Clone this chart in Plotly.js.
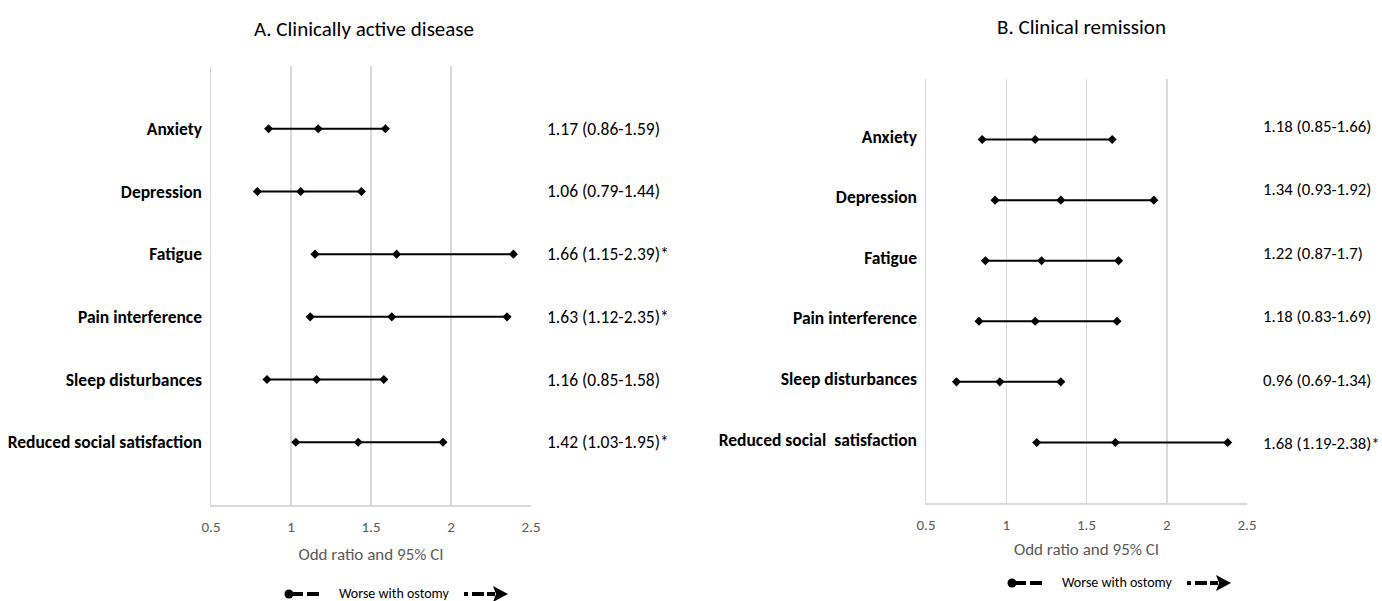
<!DOCTYPE html>
<html>
<head>
<meta charset="utf-8">
<script src="https://cdn.plot.ly/plotly-3.0.1.min.js"></script>
<style>html,body{margin:0;padding:0;background:#fff}#chart{width:1382px;height:601px}</style>
</head>
<body>
<div id="chart"></div>
<script>
// ---- data ----
const categoriesA = ["Anxiety", "Depression", "Fatigue", "Pain interference", "Sleep disturbances", "Reduced social satisfaction"];
const orA   = [1.17, 1.06, 1.66, 1.63, 1.16, 1.42];
const lowA  = [0.86, 0.79, 1.15, 1.12, 0.85, 1.03];
const highA = [1.59, 1.44, 2.39, 2.35, 1.58, 1.95];
const sigA  = [false, false, true, true, false, true];

const categoriesB = ["Anxiety", "Depression", "Fatigue", "Pain interference", "Sleep disturbances", "Reduced social\u00a0 satisfaction"];
const orB   = [1.18, 1.34, 1.22, 1.18, 0.96, 1.68];
const lowB  = [0.85, 0.93, 0.87, 0.83, 0.69, 1.19];
const highB = [1.66, 1.92, 1.70, 1.69, 1.34, 2.38];
const sigB  = [false, false, false, false, false, true];

const titleA = "A. Clinically active disease";
const titleB = "B. Clinical remission";
const xTitle = "Odd ratio and 95% CI";
const legendText = "Worse with ostomy";
const xTicks = [0.5, 1, 1.5, 2, 2.5];

// ---- layout helpers ----
const W = 1382, H = 601;
const px = x => x / W;
const py = y => 1 - y / H;
const FONT = "Carlito, Calibri, Lato, sans-serif";
const GRID = "#d9d9d9";
const GREY = "#595959";

function segTrace(cats, lo, or, hi, xa, ya) {
  const x = [], y = [];
  cats.forEach((c, i) => { x.push(lo[i], or[i], hi[i], null); y.push(c, c, c, null); });
  return {
    type: "scatter", mode: "lines+markers", x, y, xaxis: xa, yaxis: ya,
    line: {color: "#000", width: 2},
    marker: {symbol: "diamond", size: 7, color: "#000"},
    hoverinfo: "skip", showlegend: false, cliponaxis: false
  };
}
function fmt(v) { return String(v); }
function label(o, l, h, s) { return fmt(o) + " (" + fmt(l) + "-" + fmt(h) + ")" + (s ? "*" : ""); }

const data = [
  segTrace(categoriesA, lowA, orA, highA, "x", "y"),
  segTrace(categoriesB, lowB, orB, highB, "x2", "y2")
];

function xaxisDef(dom, anchor, standoff) {
  return {
    domain: dom, anchor, range: [0.5, 2.5], tickvals: xTicks, ticktext: xTicks.map(String),
    showgrid: true, gridcolor: GRID, gridwidth: 1.5, zeroline: false,
    showline: true, linecolor: GRID, linewidth: 1.5, ticks: "", ticklabelstandoff: 7,
    tickfont: {family: FONT, size: 15, color: GREY},
    title: {text: xTitle, font: {family: FONT, size: 17, color: GREY}, standoff: standoff},
    fixedrange: true
  };
}
function yaxisDef(dom, anchor, cats, shift) {
  return {
    domain: dom, anchor, type: "category", categoryarray: cats, categoryorder: "array",
    range: [cats.length, -1], showgrid: false, zeroline: false,
    showline: true, linecolor: GRID, linewidth: 1.5, ticks: "", ticklabelstandoff: 4,
    ticklabelshift: shift,
    tickfont: {family: FONT, size: 17.5, color: "#000", weight: 700},
    fixedrange: true
  };
}

const annotations = [];
annotations.push({xref: "paper", yref: "paper", x: px(364), y: py(29), text: titleA, showarrow: false,
  xanchor: "center", yanchor: "middle", font: {family: FONT, size: 21, color: "#000"}});
annotations.push({xref: "paper", yref: "paper", x: px(1081), y: py(27), text: titleB, showarrow: false,
  xanchor: "center", yanchor: "middle", font: {family: FONT, size: 21, color: "#000"}});

categoriesA.forEach((c, i) => annotations.push({
  xref: "paper", yref: "y", x: px(545), y: c, text: label(orA[i], lowA[i], highA[i], sigA[i]),
  showarrow: false, xanchor: "left", yanchor: "middle", font: {family: FONT, size: 17.5, color: "#000"}
}));
// right-hand value column sits on its own row grid in the source
const rowTopB = 126, rowStepB = 63.5;
categoriesB.forEach((c, i) => annotations.push({
  xref: "paper", yref: "paper", x: px(1261), y: py(rowTopB + rowStepB * i), text: label(orB[i], lowB[i], highB[i], sigB[i]),
  showarrow: false, xanchor: "left", yanchor: "middle", font: {family: FONT, size: 16.8, color: "#000"}
}));

const shapes = [];
function legendAt(cx, cy) {
  const blk = {type: "rect", xref: "paper", yref: "paper", fillcolor: "#000", line: {width: 0}};
  shapes.push({type: "circle", xref: "paper", yref: "paper", x0: px(cx - 4.5), x1: px(cx + 4.5), y0: py(cy + 4.5), y1: py(cy - 4.5), fillcolor: "#000", line: {width: 0}});
  shapes.push(Object.assign({}, blk, {x0: px(cx), x1: px(cx + 14), y0: py(cy + 2), y1: py(cy - 2)}));
  shapes.push(Object.assign({}, blk, {x0: px(cx + 18), x1: px(cx + 30), y0: py(cy + 2), y1: py(cy - 2)}));
  annotations.push({xref: "paper", yref: "paper", x: px(cx + 48), y: py(cy - 1), text: legendText, showarrow: false,
    xanchor: "left", yanchor: "middle", font: {family: FONT, size: 14, color: "#000"}});
  const s = cx + 175;
  shapes.push(Object.assign({}, blk, {x0: px(s), x1: px(s + 4), y0: py(cy + 2), y1: py(cy - 2)}));
  shapes.push(Object.assign({}, blk, {x0: px(s + 8), x1: px(s + 20), y0: py(cy + 2), y1: py(cy - 2)}));
  shapes.push(Object.assign({}, blk, {x0: px(s + 23), x1: px(s + 31), y0: py(cy + 2), y1: py(cy - 2)}));
  shapes.push({type: "path", xref: "paper", yref: "paper", fillcolor: "#000", line: {width: 0},
    path: `M ${px(s + 29)} ${py(cy - 8)} L ${px(s + 44)} ${py(cy)} L ${px(s + 29)} ${py(cy + 8)} L ${px(s + 32)} ${py(cy)} Z`});
}
legendAt(289, 594);
legendAt(1012, 583);

const layout = {
  width: W, height: H, margin: {l: 0, r: 0, t: 0, b: 0},
  paper_bgcolor: "#fff", plot_bgcolor: "#fff", showlegend: false,
  font: {family: FONT, color: "#000"},
  xaxis: xaxisDef([px(211), px(531)], "y", 13),
  yaxis: yaxisDef([py(505), py(66)], "x", categoriesA, 0),
  xaxis2: xaxisDef([px(926), px(1247)], "y2", 10),
  yaxis2: yaxisDef([py(503), py(79)], "x2", categoriesB, 3),
  annotations, shapes
};

Plotly.newPlot("chart", data, layout, {displayModeBar: false, staticPlot: true});
</script>
</body>
</html>
